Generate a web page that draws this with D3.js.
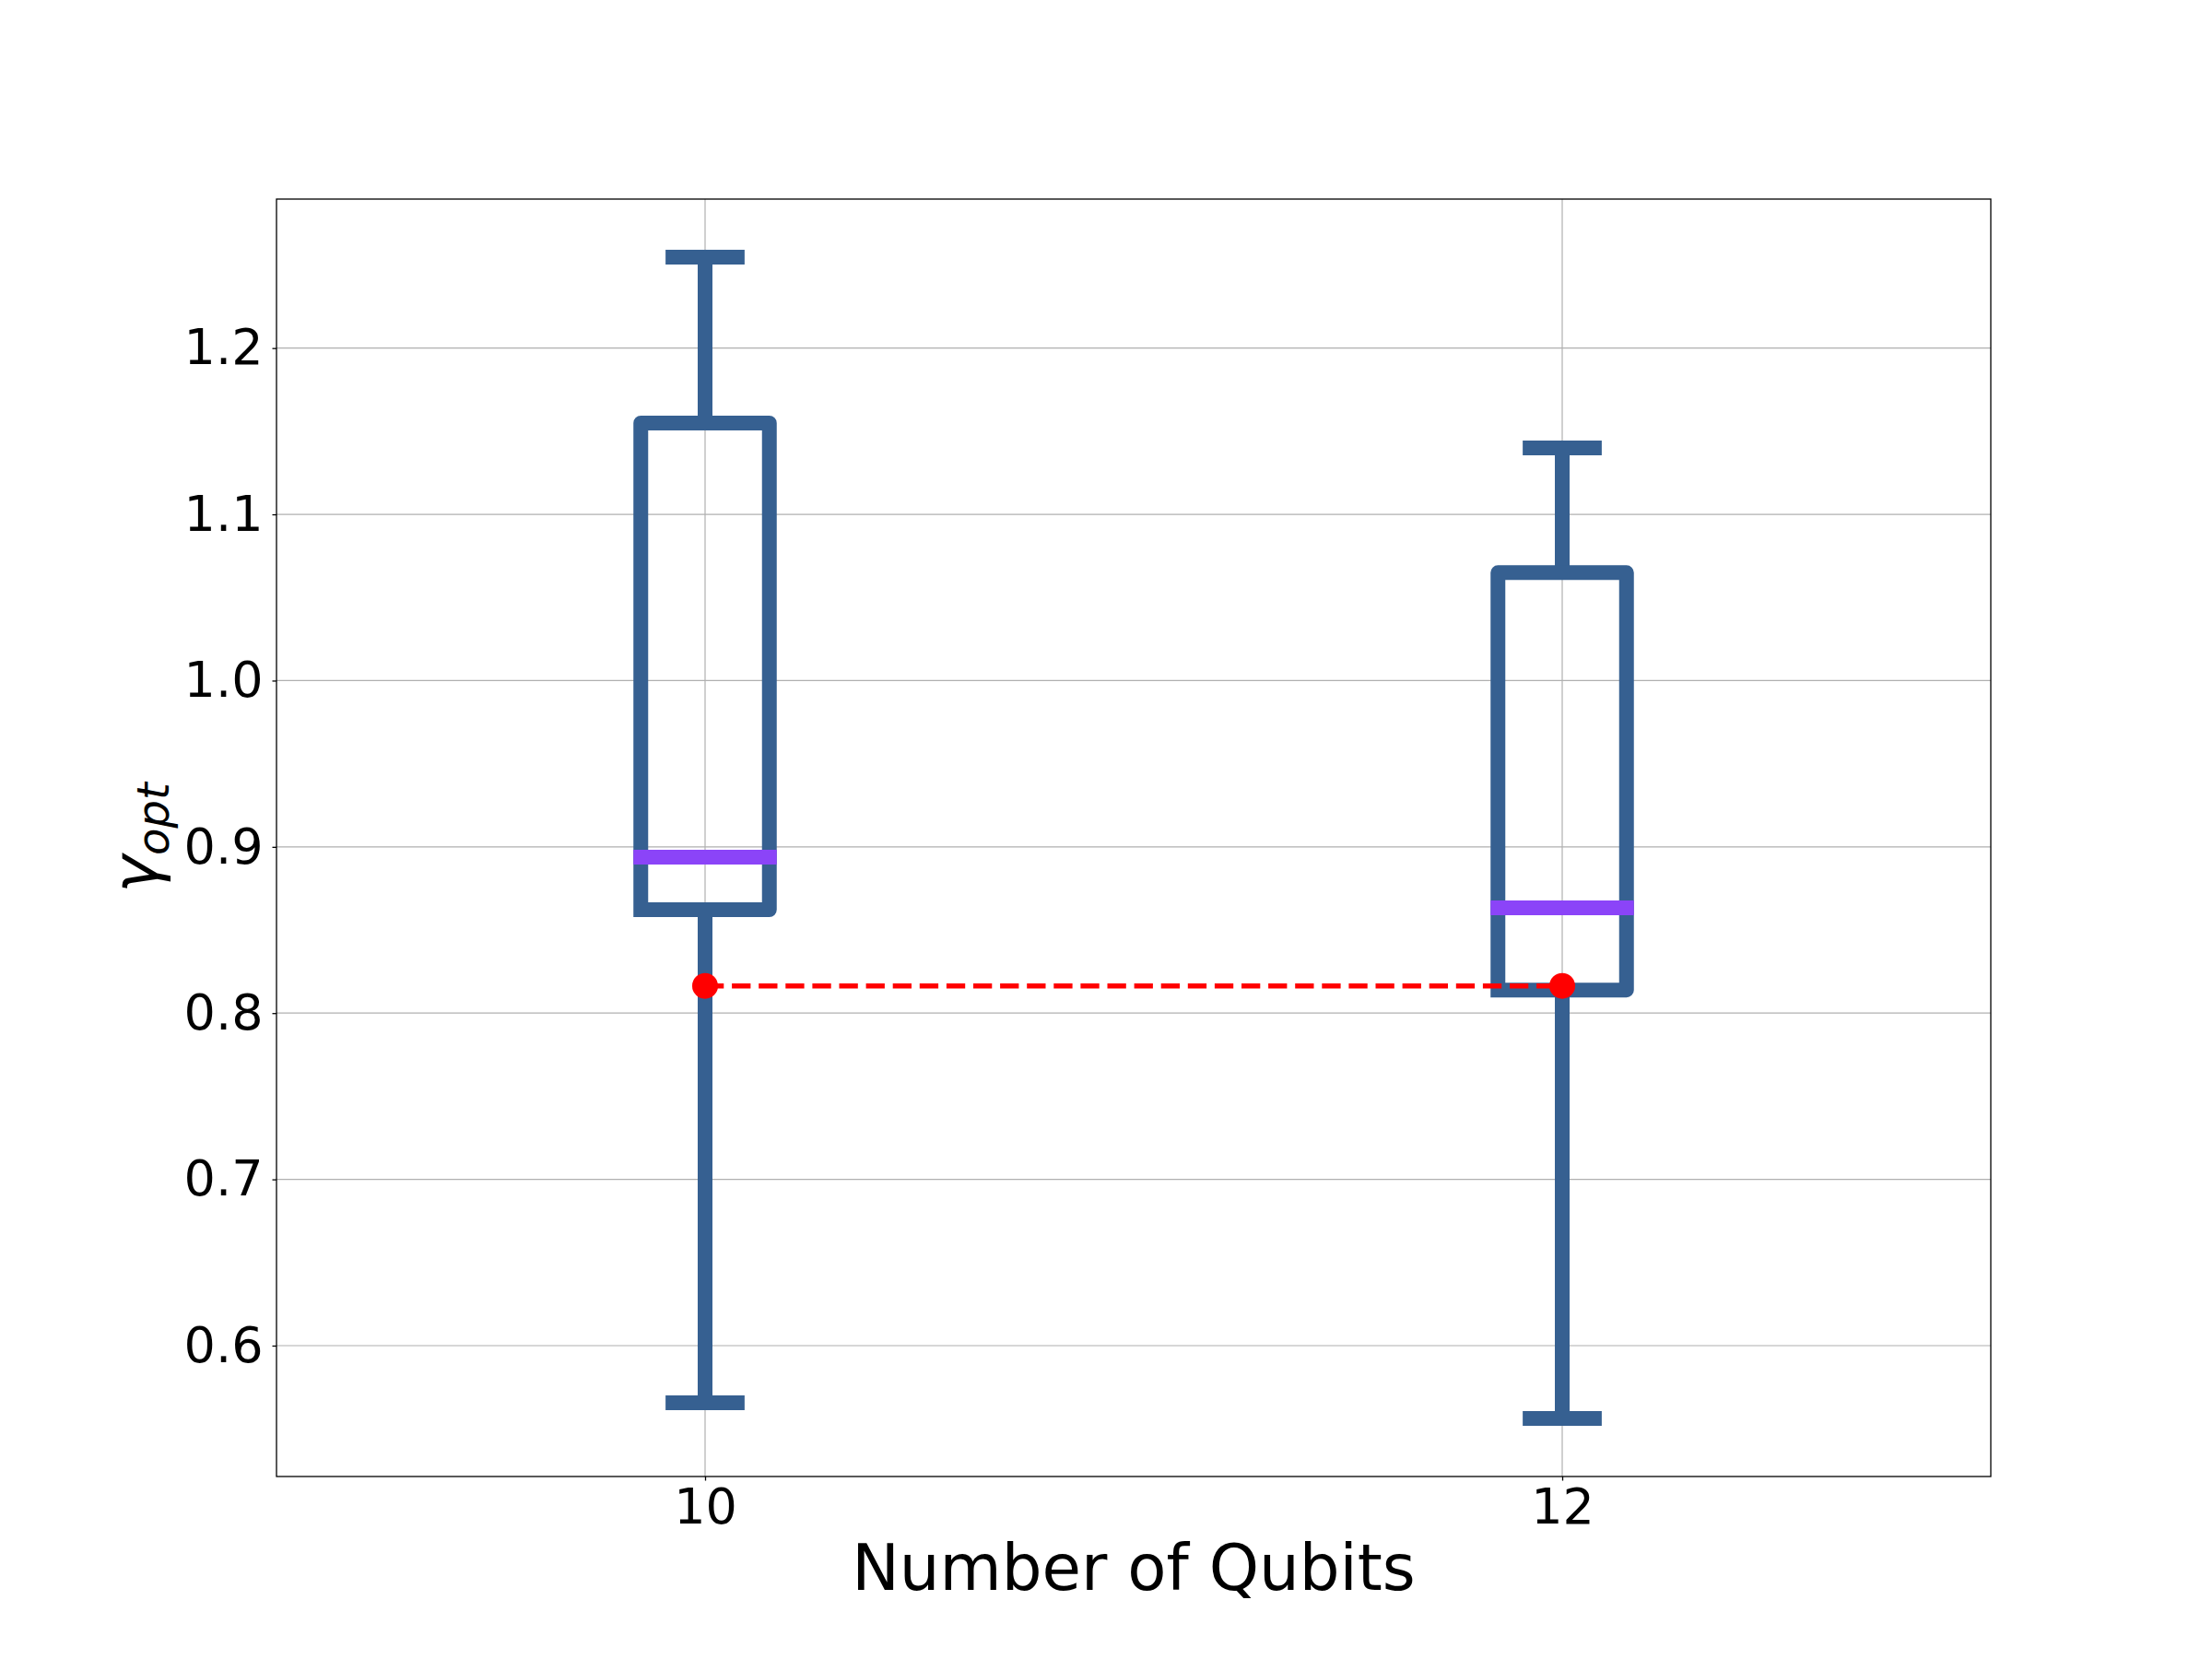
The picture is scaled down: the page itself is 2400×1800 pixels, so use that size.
<!DOCTYPE html>
<html>
<head>
<meta charset="utf-8">
<script src="https://cdn.jsdelivr.net/npm/d3@7"></script>
<style>
    body { margin: 0; background: #fff; }
    svg { display: block; font-family: "DejaVu Sans", sans-serif; }
</style>
</head>
<body>
<div id="chart"></div>
<script>
// box statistics
var qubits = [10, 12];
var whiskerLow = [0.5656, 0.5562];
var q1 = [0.8622, 0.8139];
var median = [0.8938, 0.8633];
var q3 = [1.1549, 1.0649];
var whiskerHigh = [1.2547, 1.1400];
var refLine = [0.8164, 0.8164];
var yTicks = [0.6, 0.7, 0.8, 0.9, 1.0, 1.1, 1.2];
var xDomain = [9, 13];

var boxColor = "#366091",
    medianColor = "#8b44f8",
    refColor = "#ff0000";

var W = 2400, H = 1800;
var margin = { top: 216, right: 240, bottom: 198, left: 300 },
    width = W - margin.left - margin.right,
    height = H - margin.top - margin.bottom;

var svg = d3.select("#chart")
    .append("svg")
    .attr("width", W)
    .attr("height", H);

var g = svg.append("g")
    .attr("transform", "translate(" + margin.left + "," + margin.top + ")");

// matplotlib style autoscale: 5% padding round the data
var lo = d3.min(whiskerLow), hi = d3.max(whiskerHigh), pad = (hi - lo) * 0.05;

var x = d3.scaleLinear().domain(xDomain).range([0, width]);
var y = d3.scaleLinear().domain([lo - pad, hi + pad]).range([height, 0]);

// grid
g.append("g").selectAll("line")
    .data(yTicks)
    .enter().append("line")
    .attr("x1", 0).attr("x2", width)
    .attr("y1", d => y(d)).attr("y2", d => y(d))
    .attr("stroke", "#b0b0b0").attr("stroke-width", 1.2);

g.append("g").selectAll("line")
    .data(qubits)
    .enter().append("line")
    .attr("x1", d => x(d)).attr("x2", d => x(d))
    .attr("y1", 0).attr("y2", height)
    .attr("stroke", "#b0b0b0").attr("stroke-width", 1.2);

var boxW = 0.3, capW = 0.15, lw = 16;

var boxes = g.append("g").selectAll("g")
    .data(qubits.map((q, i) => ({ q: q, lo: whiskerLow[i], q1: q1[i], med: median[i], q3: q3[i], hi: whiskerHigh[i] })))
    .enter().append("g");

// whiskers
boxes.append("line")
    .attr("x1", d => x(d.q)).attr("x2", d => x(d.q))
    .attr("y1", d => y(d.q3)).attr("y2", d => y(d.hi))
    .attr("stroke", boxColor).attr("stroke-width", lw);
boxes.append("line")
    .attr("x1", d => x(d.q)).attr("x2", d => x(d.q))
    .attr("y1", d => y(d.q1)).attr("y2", d => y(d.lo))
    .attr("stroke", boxColor).attr("stroke-width", lw);

// caps
["lo", "hi"].forEach(function (k) {
    boxes.append("line")
        .attr("x1", d => x(d.q - capW / 2)).attr("x2", d => x(d.q + capW / 2))
        .attr("y1", d => y(d[k])).attr("y2", d => y(d[k]))
        .attr("stroke", boxColor).attr("stroke-width", lw)
        .attr("stroke-linecap", "square");
});

// box outline (open path, like matplotlib)
boxes.append("path")
    .attr("d", function (d) {
        var l = x(d.q - boxW / 2), r = x(d.q + boxW / 2);
        return "M" + l + "," + y(d.q1) + "H" + r + "V" + y(d.q3) + "H" + l + "V" + y(d.q1);
    })
    .attr("fill", "none")
    .attr("stroke", boxColor).attr("stroke-width", lw)
    .attr("stroke-linejoin", "round")
    .attr("stroke-linecap", "square");

// medians
boxes.append("line")
    .attr("x1", d => x(d.q - boxW / 2)).attr("x2", d => x(d.q + boxW / 2))
    .attr("y1", d => y(d.med)).attr("y2", d => y(d.med))
    .attr("stroke", medianColor).attr("stroke-width", lw)
    .attr("stroke-linecap", "square");

// red reference line
var refData = qubits.map((q, i) => ({ q: q, v: refLine[i] }));
g.append("path")
    .datum(refData)
    .attr("fill", "none")
    .attr("stroke", refColor)
    .attr("stroke-width", 5.5)
    .attr("stroke-dasharray", "20.3 8.8")
    .attr("d", d3.line().x(d => x(d.q)).y(d => y(d.v)));

g.append("g").selectAll("circle")
    .data(refData)
    .enter().append("circle")
    .attr("cx", d => x(d.q)).attr("cy", d => y(d.v))
    .attr("r", 14)
    .attr("fill", refColor);

// axes
var yAxis = g.append("g")
    .call(d3.axisLeft(y).tickValues(yTicks).tickFormat(d3.format(".1f")).tickSize(4.5).tickPadding(10));
var xAxis = g.append("g")
    .attr("transform", "translate(0," + height + ")")
    .call(d3.axisBottom(x).tickValues(qubits).tickFormat(d3.format("d")).tickSize(4.5).tickPadding(8.5));

[yAxis, xAxis].forEach(function (a) {
    a.select(".domain").remove();
    a.selectAll(".tick line").attr("stroke", "#000").attr("stroke-width", 1.3);
    a.selectAll("text")
        .attr("fill", "#000")
        .style("font-family", "DejaVu Sans")
        .style("font-size", "54px");
});

// frame
g.append("rect")
    .attr("width", width).attr("height", height)
    .attr("fill", "none")
    .attr("stroke", "#000").attr("stroke-width", 1.3);

// labels
svg.append("text")
    .attr("x", margin.left + width / 2)
    .attr("y", 1725)
    .attr("text-anchor", "middle")
    .style("font-size", "69px")
    .text("Number of Qubits");

var yl = svg.append("text")
    .attr("transform", "translate(171," + (margin.top + height / 2) + ") rotate(-90)")
    .attr("text-anchor", "middle")
    .style("font-size", "69px")
    .style("font-style", "italic");
yl.append("tspan").text("γ");
yl.append("tspan").attr("dy", 12).style("font-size", "48px").text("opt");
</script>
</body>
</html>
